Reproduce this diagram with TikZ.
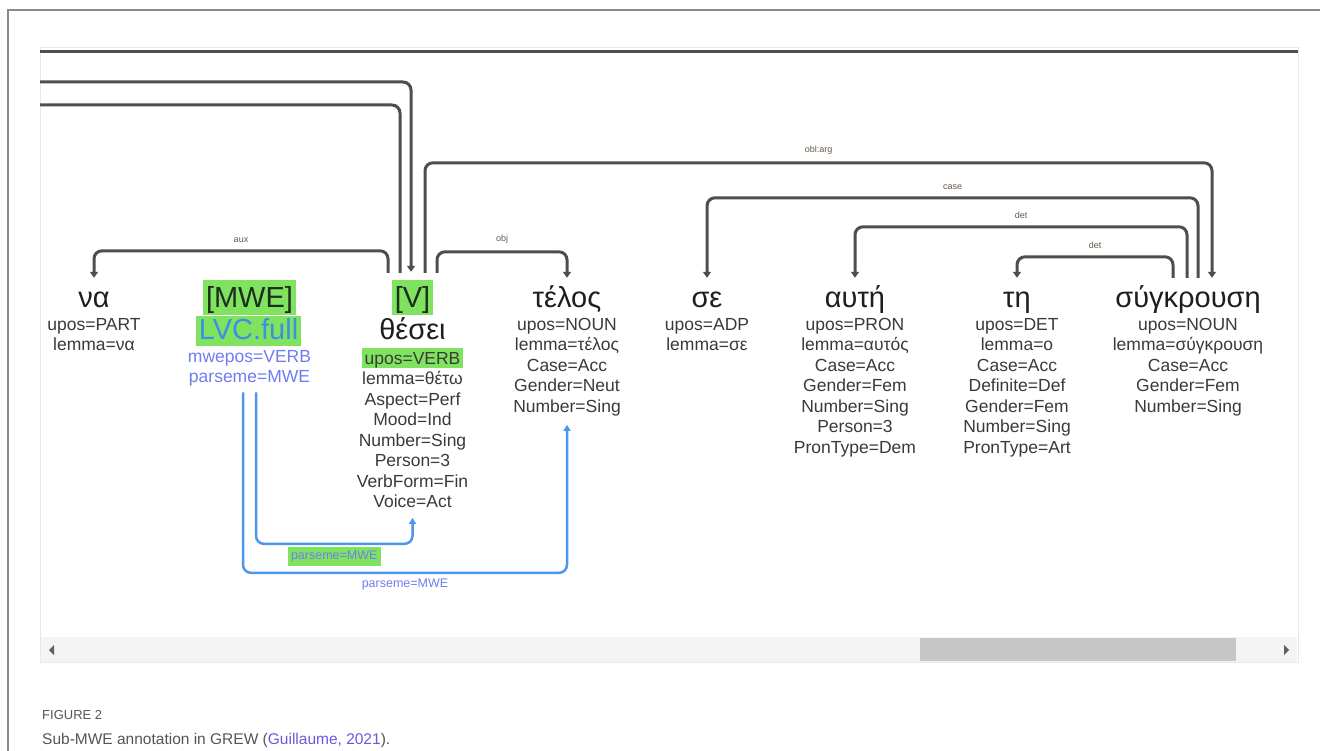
\documentclass[tikz,border=0pt]{standalone}
\usepackage{fontspec}
\setmainfont{Liberation Sans}
\usetikzlibrary{arrows.meta}
\definecolor{arcgray}{HTML}{4E4E4E}
\definecolor{lblcol}{HTML}{6A5A4A}
\definecolor{mwegreen}{HTML}{80E35F}
\definecolor{mweblue}{HTML}{3C8FE6}
\definecolor{featblue}{HTML}{6E7EF2}
\definecolor{linkblue}{HTML}{4E95F0}
\definecolor{featcol}{HTML}{3A3A3A}
\definecolor{wordcol}{HTML}{1E1E1E}
\definecolor{mwetext}{HTML}{1E2E1E}
\definecolor{framegray}{HTML}{8A8A8A}
\definecolor{capgray}{HTML}{555555}
\definecolor{citecol}{HTML}{6A5ADB}
\begin{document}
\begin{tikzpicture}[x=1pt,y=-1pt,
  word/.style={font=\fontsize{29}{32}\selectfont, anchor=base, inner sep=3pt, text height=25pt, text depth=4pt, text=wordcol},
  wordtwo/.style={font=\fontsize{29}{32}\selectfont, anchor=base, inner sep=3pt, text height=21pt, text depth=3pt, text=wordcol},
  feats/.style={font=\fontsize{17.5}{20.5}\selectfont, align=center, anchor=base, inner sep=0pt, text=featcol},
  dep/.style={draw=arcgray, line width=3pt, rounded corners=8pt},
  deparrow/.style={dep, -{Triangle[length=6pt,width=8pt]}},
  blink/.style={draw=linkblue, line width=2.5pt, rounded corners=8pt, -{Triangle[length=6pt,width=7pt]}},
  lbl/.style={font=\fontsize{9}{10}\selectfont, text=lblcol, inner sep=0pt},
  plabel/.style={font=\fontsize{12.5}{14}\selectfont, inner sep=3.5pt, text height=9pt, text depth=3pt, sharp corners}
]
\useasboundingbox (0,0) rectangle (1320,751);
\fill[white] (0,0) rectangle (1320,751);
% outer frame (top and left edges)
\draw[framegray, line width=1.2pt] (8,751) -- (8,10) -- (1320,10);
% inner window frame
\draw[gray!18, line width=1pt] (40,48) rectangle (1298,662);
% scrollbar
\fill[gray!9] (41,637) rectangle (1297,662);
\fill[gray!45] (920,638) rectangle (1236,661);
\fill[gray!75!black] (49,650) -- (54,645) -- (54,655) -- cycle;
\fill[gray!75!black] (1289,650) -- (1284,645) -- (1284,655) -- cycle;

% words
\node[word] (na) at (94,308) {να};
\node[word, fill=mwegreen, text=mwetext] (mwe) at (249.5,308) {[MWE]};
\node[word, fill=mwegreen, text=mwetext] (V) at (412.5,308) {[V]};
\node[word] (telos) at (567,308) {τέλος};
\node[word] (se) at (707,308) {σε};
\node[word] (auti) at (855,308) {αυτή};
\node[word] (ti) at (1017,308) {τη};
\node[word] (sygk) at (1188,308) {σύγκρουση};

% second lines
\node[wordtwo, fill=mwegreen, text=mweblue] (lvc) at (248.5,340) {LVC.full};
\node[wordtwo] (thesei) at (412.5,340) {θέσει};

% features (anchor base = baseline of the last line)
\node[feats] (naf) at (94,350.5) {upos=PART\\lemma=να};
\node[feats, text=featblue] (mwef) at (249.5,382.5) {mwepos=VERB\\parseme=MWE};
\node[feats, fill=mwegreen, inner sep=3pt, text height=13pt, text depth=1pt] (vupos) at (412.5,364) {upos=VERB};
\node[feats] (thf) at (412.5,507.5) {lemma=θέτω\\Aspect=Perf\\Mood=Ind\\Number=Sing\\Person=3\\VerbForm=Fin\\Voice=Act};
\node[feats] (telf) at (567,412) {upos=NOUN\\lemma=τέλος\\Case=Acc\\Gender=Neut\\Number=Sing};
\node[feats] (sef) at (707,350.5) {upos=ADP\\lemma=σε};
\node[feats] (autif) at (855,453) {upos=PRON\\lemma=αυτός\\Case=Acc\\Gender=Fem\\Number=Sing\\Person=3\\PronType=Dem};
\node[feats] (tif) at (1017,453) {upos=DET\\lemma=ο\\Case=Acc\\Definite=Def\\Gender=Fem\\Number=Sing\\PronType=Art};
\node[feats] (sygkf) at (1188,412) {upos=NOUN\\lemma=σύγκρουση\\Case=Acc\\Gender=Fem\\Number=Sing};

% dependency arcs
\coordinate (topL) at (40,52);
\coordinate (topR) at (1298,52);
\coordinate (inL) at (40,82);
\coordinate (outL) at (40,105);
\draw[dep] (topL) -- (topR);
\draw[deparrow, shorten >=8pt] (inL) -| ([xshift=-1.5pt]V.north);
\draw[dep, shorten <=7pt] ([xshift=-12.5pt]V.north) |- (outL);
\draw[deparrow, shorten <=7pt, shorten >=2pt] ([xshift=-24.5pt]V.north) -- ++(0,-29)
  -| node[lbl, pos=.25, above=7pt] (laux) {aux} (na.north);
\draw[deparrow, shorten <=7pt, shorten >=2pt] ([xshift=24.5pt]V.north) -- ++(0,-28)
  -| node[lbl, pos=.25, above=7pt] (lobj) {obj} (telos.north);
\draw[deparrow, shorten <=7pt, shorten >=2pt] ([xshift=12.5pt]V.north) -- ++(0,-117)
  -| node[lbl, pos=.25, above=7pt] (loblarg) {obl:arg} ([xshift=24pt]sygk.north);
\draw[deparrow, shorten <=2pt, shorten >=2pt] ([xshift=10pt]sygk.north) -- ++(0,-82)
  -| node[lbl, pos=.25, above=7pt] (lcase) {case} (se.north);
\draw[deparrow, shorten <=2pt, shorten >=2pt] ([xshift=-1pt]sygk.north) -- ++(0,-53)
  -| node[lbl, pos=.25, above=7pt] (ldet1) {det} (auti.north);
\draw[deparrow, shorten <=2pt, shorten >=2pt] ([xshift=-15pt]sygk.north) -- ++(0,-23)
  -| node[lbl, pos=.25, above=7pt] (ldet2) {det} (ti.north);

% MWE links
\draw[blink] ([xshift=6.5pt,yshift=-6pt]mwef.south) |- node[plabel, pos=.75, below=2pt, fill=mwegreen, text=featblue] (pl1) {parseme=MWE} ([yshift=-36pt]thf.south) -- ([yshift=-10pt]thf.south);
\draw[blink] ([xshift=-6.5pt,yshift=-6pt]mwef.south) |- node[plabel, pos=.75, below=1pt, text=featblue] (pl2) {parseme=MWE} ([yshift=-157pt]telf.south) -- ([yshift=-9pt]telf.south);

% caption
\node[anchor=base west, inner sep=0pt, font=\fontsize{13}{15}\selectfont, text=capgray] (figlbl) at (42,719) {FIGURE 2};
\node[anchor=base west, inner sep=0pt, font=\fontsize{15.5}{18}\selectfont, text=capgray] (cap) at (42,744) {Sub-MWE annotation in GREW (\textcolor{citecol}{Guillaume, 2021}).};
\end{tikzpicture}
\end{document}
